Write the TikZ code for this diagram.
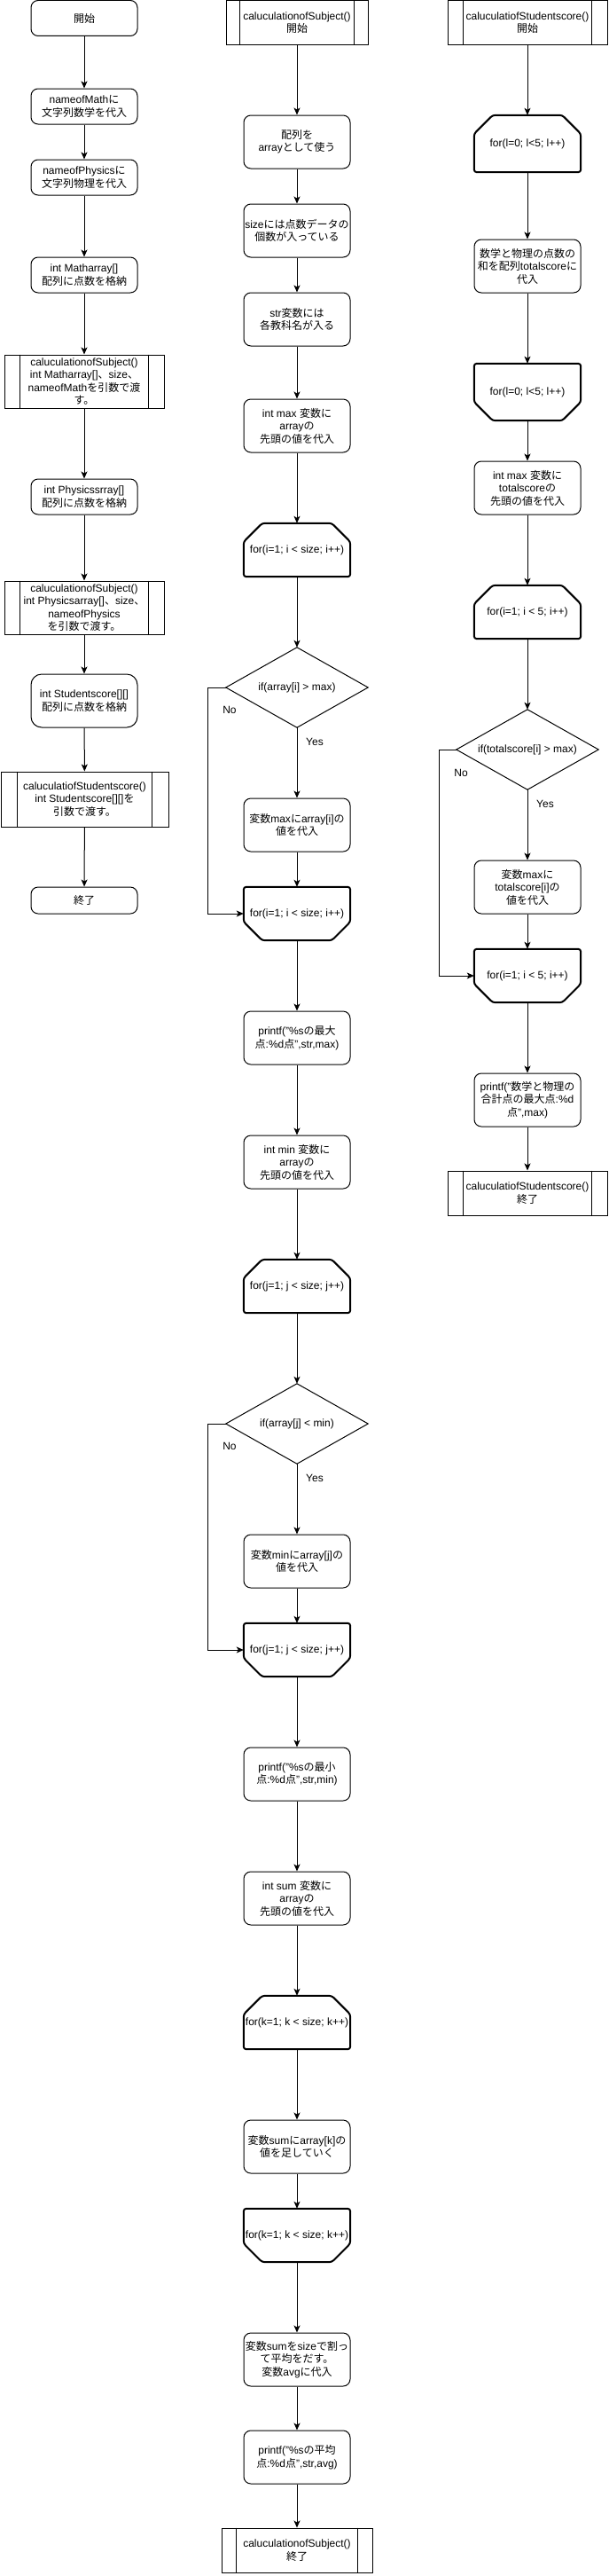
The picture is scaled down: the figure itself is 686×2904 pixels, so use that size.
\documentclass[tikz,border=0pt]{standalone}
\usepackage{fontspec}
\setmainfont{Liberation Sans}
\newfontfamily\jfont{Noto Sans CJK JP}
\newcommand\jt[1]{{\jfont #1}}
\usetikzlibrary{arrows.meta}
\tikzset{
  txt/.style={font=\fontsize{12}{14.5}\selectfont, align=center, inner sep=0pt, text=black},
  rbox/.style={txt, draw, line width=1pt, rounded corners=8pt, minimum width=120pt},
  pbox/.style={txt, draw, line width=1pt, minimum height=50pt},
  lbox/.style={txt, minimum width=120pt, minimum height=60pt},
  dbox/.style={txt, minimum width=160pt, minimum height=90pt},
  loopline/.style={line width=2pt, rounded corners=3pt, line join=round},
  arr/.style={line width=1pt, -{Stealth[length=8pt,width=7pt,inset=2pt]}},
  lab/.style={txt},
  thin/.style={line width=1pt}
}
\newcommand\pinner[2]{\draw[thin] ([xshift=#2]#1.north west) -- ([xshift=#2]#1.south west) ([xshift=-#2]#1.north east) -- ([xshift=-#2]#1.south east);}
\newcommand\looptop[1]{\draw[loopline] ([xshift=21pt]#1.north west) -- ([xshift=-21pt]#1.north east) -- ([yshift=-21pt]#1.north east) -- (#1.south east) -- (#1.south west) -- ([yshift=-21pt]#1.north west) -- cycle;}
\newcommand\loopbot[1]{\draw[loopline] (#1.north west) -- (#1.north east) -- ([yshift=21pt]#1.south east) -- ([xshift=-21pt]#1.south east) -- ([xshift=21pt]#1.south west) -- ([yshift=21pt]#1.south west) -- cycle;}
\newcommand\diam[1]{\draw[thin] (#1.north) -- (#1.east) -- (#1.south) -- (#1.west) -- cycle;}
\begin{document}
\begin{tikzpicture}[x=1pt,y=-1pt]
\fill[white] (0,0) rectangle (686,2904);
\useasboundingbox (0,0) rectangle (686,2904);

% ---------------- left column ----------------
\node[rbox, minimum height=40pt] (L1) at (95,20.5) {\jt{開始}};
\node[rbox, minimum height=40pt] (L2) at (95,120) {nameofMath\jt{に}\\\jt{文字列数学を代入}};
\node[rbox, minimum height=40pt] (L3) at (95,200) {nameofPhysics\jt{に}\\\jt{文字列物理を代入}};
\node[rbox, minimum height=40pt] (L4) at (95,310) {int Matharray[]\\\jt{配列に点数を格納}};
\node[pbox, minimum width=180pt, minimum height=60pt] (L5) at (95,430) {caluculationofSubject()\\int Matharray[]\jt{、}size\jt{、}\\nameofMath\jt{を引数で渡}\\\jt{す。}};
\pinner{L5}{18pt}
\node[rbox, minimum height=40pt] (L6) at (95,560) {int Physicssrray[]\\\jt{配列に点数を格納}};
\node[pbox, minimum width=180pt, minimum height=60pt] (L7) at (95,685) {caluculationofSubject()\\int Physicsarray[]\jt{、}size\jt{、}\\nameofPhysics\\\jt{を引数で渡す。}};
\pinner{L7}{18pt}
\node[rbox, rounded corners=12pt, minimum height=60pt] (L8) at (95,790) {int Studentscore[][]\\\jt{配列に点数を格納}};
\node[pbox, minimum width=189pt, minimum height=62pt] (L9) at (95.5,901) {caluculatiofStudentscore()\\int Studentscore[][]\jt{を}\\\jt{引数で渡す。}};
\pinner{L9}{19pt}
\node[rbox, minimum height=30pt] (L10) at (95,1015) {\jt{終了}};

\draw[arr] (L1) -- (L2);
\draw[arr] (L2) -- (L3);
\draw[arr] (L3) -- (L4);
\draw[arr] (L4) -- (L5);
\draw[arr] (L5) -- (L6);
\draw[arr] (L6) -- (L7);
\draw[arr] (L7) -- (L8);
\draw[arr] (L8) -- (L9);
\draw[arr] (L9) -- (L10);

% ---------------- middle column ----------------
\node[pbox, minimum width=160pt, minimum height=50pt] (M1) at (335,25.5) {caluculationofSubject()\\\jt{開始}};
\pinner{M1}{16pt}
\node[rbox, minimum height=60pt] (M2) at (335,160) {\jt{配列を}\\array\jt{として使う}};
\node[rbox, minimum height=60pt] (M3) at (335,260) {size\jt{には点数データの}\\\jt{個数が入っている}};
\node[rbox, minimum height=60pt] (M4) at (335,360) {str\jt{変数には}\\\jt{各教科名が入る}};
\node[rbox, minimum height=60pt] (M5) at (335,480) {int max \jt{変数に}\\array\jt{の}\\\jt{先頭の値を代入}};
\node[lbox] (M6) at (335,620) {for(i=1; i < size; i++)};
\looptop{M6}
\node[dbox] (M7) at (335,775) {if(array[i] > max)};
\diam{M7}
\node[rbox, minimum height=60pt] (M8) at (335,930) {\jt{変数}max\jt{に}array[i]\jt{の}\\\jt{値を代入}};
\node[lbox] (M9) at (335,1030) {for(i=1; i < size; i++)};
\loopbot{M9}
\node[rbox, minimum height=60pt] (M10) at (335,1170) {printf("\%s\jt{の最大}\\\jt{点}:\%d\jt{点}",str,max)};
\node[rbox, minimum height=60pt] (M11) at (335,1310) {int min \jt{変数に}\\array\jt{の}\\\jt{先頭の値を代入}};
\node[lbox] (M12) at (335,1450) {for(j=1; j < size; j++)};
\looptop{M12}
\node[dbox] (M13) at (335,1605) {if(array[j] < min)};
\diam{M13}
\node[rbox, minimum height=60pt] (M14) at (335,1760) {\jt{変数}min\jt{に}array[j]\jt{の}\\\jt{値を代入}};
\node[lbox] (M15) at (335,1860) {for(j=1; j < size; j++)};
\loopbot{M15}
\node[rbox, minimum height=60pt] (M16) at (335,2000) {printf("\%s\jt{の最小}\\\jt{点}:\%d\jt{点}",str,min)};
\node[rbox, minimum height=60pt] (M17) at (335,2140) {int sum \jt{変数に}\\array\jt{の}\\\jt{先頭の値を代入}};
\node[lbox] (M18) at (335,2280) {for(k=1; k < size; k++)};
\looptop{M18}
\node[rbox, minimum height=60pt] (M19) at (335,2420) {\jt{変数}sum\jt{に}array[k]\jt{の}\\\jt{値を足していく}};
\node[lbox] (M20) at (335,2520) {for(k=1; k < size; k++)};
\loopbot{M20}
\node[rbox, minimum height=60pt] (M21) at (335,2660) {\jt{変数}sum\jt{を}size\jt{で割っ}\\\jt{て平均をだす。}\\\jt{変数}avg\jt{に代入}};
\node[rbox, minimum height=60pt] (M22) at (335,2770) {printf("\%s\jt{の平均}\\\jt{点}:\%d\jt{点}",str,avg)};
\node[pbox, minimum width=170pt, minimum height=50pt] (M23) at (335,2875) {caluculationofSubject()\\\jt{終了}};
\pinner{M23}{17pt}

\draw[arr] (M1) -- (M2);
\draw[arr] (M2) -- (M3);
\draw[arr] (M3) -- (M4);
\draw[arr] (M4) -- (M5);
\draw[arr] (M5) -- (M6);
\draw[arr] (M6) -- (M7);
\draw[arr] (M7) -- (M8);
\draw[arr] (M8) -- (M9);
\draw[arr] (M7.west) -- ++(-20pt,0) |- (M9.west);
\node[lab] (N1) at (259,800) {No};
\node[lab] (Y1) at (355,836) {Yes};
\draw[arr] (M9) -- (M10);
\draw[arr] (M10) -- (M11);
\draw[arr] (M11) -- (M12);
\draw[arr] (M12) -- (M13);
\draw[arr] (M13) -- (M14);
\draw[arr] (M14) -- (M15);
\draw[arr] (M13.west) -- ++(-20pt,0) |- (M15.west);
\node[lab] (N2) at (259,1630) {No};
\node[lab] (Y2) at (355,1666) {Yes};
\draw[arr] (M15) -- (M16);
\draw[arr] (M16) -- (M17);
\draw[arr] (M17) -- (M18);
\draw[arr] (M18) -- (M19);
\draw[arr] (M19) -- (M20);
\draw[arr] (M20) -- (M21);
\draw[arr] (M21) -- (M22);
\draw[arr] (M22) -- (M23);

% ---------------- right column ----------------
\node[pbox, minimum width=180pt, minimum height=50pt] (R1) at (595,25.5) {caluculatiofStudentscore()\\\jt{開始}};
\pinner{R1}{18pt}
\node[lbox, minimum height=64pt] (R2) at (595,162) {for(l=0; l<5; l++)};
\looptop{R2}
\node[rbox, minimum height=60pt] (R3) at (595,300) {\jt{数学と物理の点数の}\\\jt{和を配列}totalscore\jt{に}\\\jt{代入}};
\node[lbox, minimum height=64pt] (R4) at (595,442) {for(l=0; l<5; l++)};
\loopbot{R4}
\node[rbox, minimum height=60pt] (R5) at (595,550) {int max \jt{変数に}\\totalscore\jt{の}\\\jt{先頭の値を代入}};
\node[lbox] (R6) at (595,690) {for(i=1; i < 5; i++)};
\looptop{R6}
\node[dbox] (R7) at (595,845) {if(totalscore[i] > max)};
\diam{R7}
\node[rbox, minimum height=60pt] (R8) at (595,1000) {\jt{変数}max\jt{に}\\totalscore[i]\jt{の}\\\jt{値を代入}};
\node[lbox] (R9) at (595,1100) {for(i=1; i < 5; i++)};
\loopbot{R9}
\node[rbox, minimum height=60pt] (R10) at (595,1240) {printf("\jt{数学と物理の}\\\jt{合計点の最大点}:\%d\\\jt{点}",max)};
\node[pbox, minimum width=180pt, minimum height=50pt] (R11) at (595,1345) {caluculatiofStudentscore()\\\jt{終了}};
\pinner{R11}{18pt}

\draw[arr] (R1) -- (R2);
\draw[arr] (R2) -- (R3);
\draw[arr] (R3) -- (R4);
\draw[arr] (R4) -- (R5);
\draw[arr] (R5) -- (R6);
\draw[arr] (R6) -- (R7);
\draw[arr] (R7) -- (R8);
\draw[arr] (R8) -- (R9);
\draw[arr] (R7.west) -- ++(-19pt,0) |- (R9.west);
\node[lab] (N3) at (520,871) {No};
\node[lab] (Y3) at (615,906) {Yes};
\draw[arr] (R9) -- (R10);
\draw[arr] (R10) -- (R11);
\end{tikzpicture}
\end{document}
